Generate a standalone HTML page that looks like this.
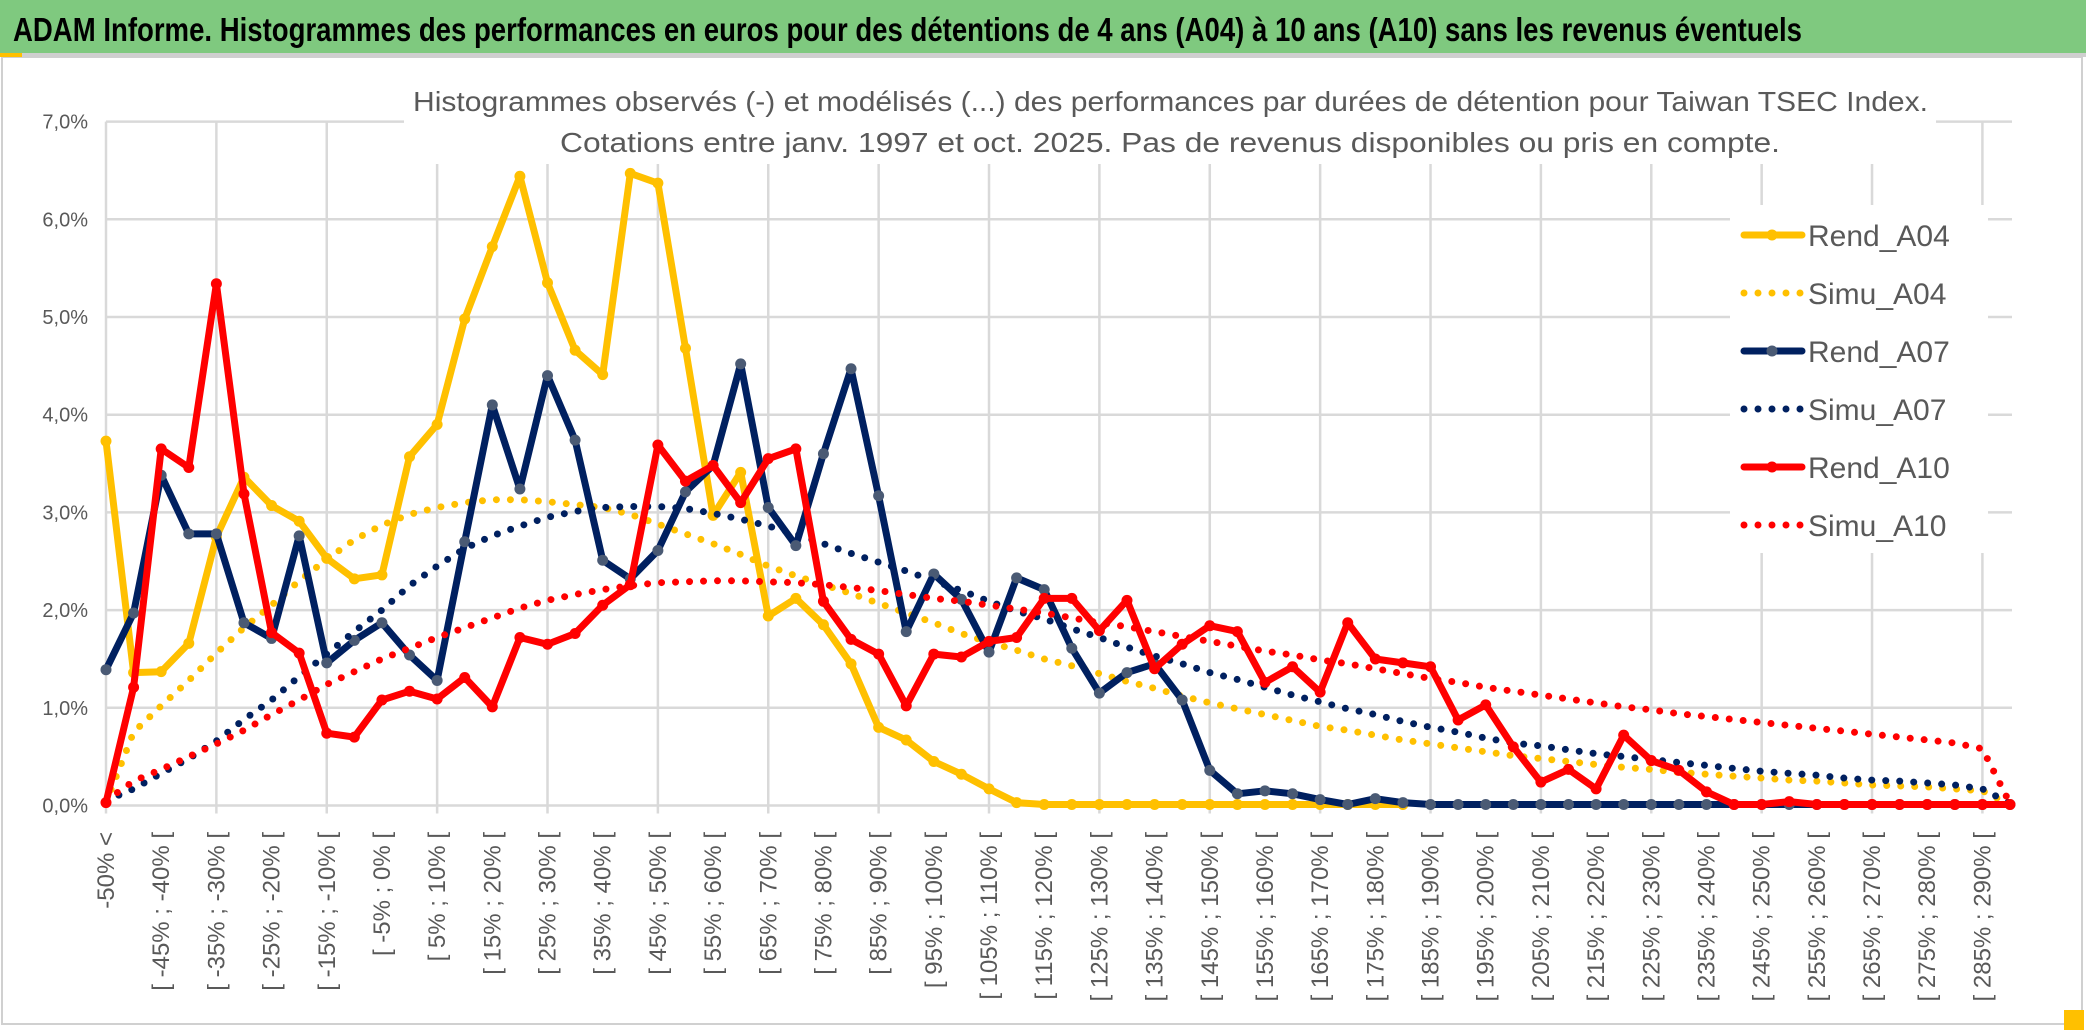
<!DOCTYPE html>
<html><head><meta charset="utf-8"><title>ADAM Informe - Histogrammes Taiwan TSEC</title>
<style>
html,body{margin:0;padding:0;background:#fff;}
svg{display:block;font-family:"Liberation Sans",sans-serif;}
</style></head>
<body>
<svg id="chart" width="2086" height="1033" viewBox="0 0 2086 1033" xmlns="http://www.w3.org/2000/svg">
  <rect x="0" y="0" width="2086" height="1033" fill="#fff"/>
  <rect x="2" y="57" width="2080" height="967" fill="none" stroke="#d0d0d0" stroke-width="2"/>
  <rect x="0" y="0" width="2086" height="53" fill="#7fc97f"/>
  <rect x="0" y="53" width="2086" height="4" fill="#cfcfcf"/>
  <rect x="0" y="53" width="22" height="4" fill="#ffc000"/>
  <rect x="2064" y="1010" width="20" height="20" fill="#ffc000"/>
  <text x="13" y="41" font-size="33" font-weight="bold" fill="#000" textLength="1789" lengthAdjust="spacingAndGlyphs">ADAM Informe. Histogrammes des performances en euros pour des détentions de 4 ans (A04) à 10 ans (A10) sans les revenus éventuels</text>
  <g id="grid"></g>
  <g id="yaxis"></g>
  <g id="xaxis"></g>
  <g id="series"></g>
  <rect x="404" y="80" width="1532" height="84" fill="#fff"/>
  <text x="413" y="111" font-size="28" fill="#595959" textLength="1515" lengthAdjust="spacingAndGlyphs">Histogrammes observés (-) et modélisés (...) des performances par durées de détention pour Taiwan TSEC Index.</text>
  <text x="560" y="152" font-size="28" fill="#595959" textLength="1220" lengthAdjust="spacingAndGlyphs">Cotations entre janv. 1997 et oct. 2025. Pas de revenus disponibles ou pris en compte.</text>
  <g id="legend"></g>
</svg>
<script>
const categories = ["-50% <","[ -50% ; -45% [","[ -45% ; -40% [","[ -40% ; -35% [","[ -35% ; -30% [","[ -30% ; -25% [","[ -25% ; -20% [","[ -20% ; -15% [","[ -15% ; -10% [","[ -10% ; -5% [","[ -5% ; 0% [","[ 0% ; 5% [","[ 5% ; 10% [","[ 10% ; 15% [","[ 15% ; 20% [","[ 20% ; 25% [","[ 25% ; 30% [","[ 30% ; 35% [","[ 35% ; 40% [","[ 40% ; 45% [","[ 45% ; 50% [","[ 50% ; 55% [","[ 55% ; 60% [","[ 60% ; 65% [","[ 65% ; 70% [","[ 70% ; 75% [","[ 75% ; 80% [","[ 80% ; 85% [","[ 85% ; 90% [","[ 90% ; 95% [","[ 95% ; 100% [","[ 100% ; 105% [","[ 105% ; 110% [","[ 110% ; 115% [","[ 115% ; 120% [","[ 120% ; 125% [","[ 125% ; 130% [","[ 130% ; 135% [","[ 135% ; 140% [","[ 140% ; 145% [","[ 145% ; 150% [","[ 150% ; 155% [","[ 155% ; 160% [","[ 160% ; 165% [","[ 165% ; 170% [","[ 170% ; 175% [","[ 175% ; 180% [","[ 180% ; 185% [","[ 185% ; 190% [","[ 190% ; 195% [","[ 195% ; 200% [","[ 200% ; 205% [","[ 205% ; 210% [","[ 210% ; 215% [","[ 215% ; 220% [","[ 220% ; 225% [","[ 225% ; 230% [","[ 230% ; 235% [","[ 235% ; 240% [","[ 240% ; 245% [","[ 245% ; 250% [","[ 250% ; 255% [","[ 255% ; 260% [","[ 260% ; 265% [","[ 265% ; 270% [","[ 270% ; 275% [","[ 275% ; 280% [","[ 280% ; 285% [","[ 285% ; 290% [","[ 290% ; 295% ["];
const yTicks = [0,1,2,3,4,5,6,7];
const yTickLabels = ["0,0%","1,0%","2,0%","3,0%","4,0%","5,0%","6,0%","7,0%"];

const rendA04 = [3.73,1.36,1.37,1.66,2.75,3.36,3.07,2.91,2.53,2.32,2.36,3.57,3.90,4.98,5.72,6.44,5.35,4.66,4.41,6.47,6.37,4.68,2.97,3.41,1.94,2.12,1.85,1.45,0.80,0.67,0.45,0.32,0.17,0.03,0.01,0.01,0.01,0.01,0.01,0.01,0.01,0.01,0.01,0.01,0.01,0.01,0.01,0.01];
const simuA04 = [0.03,0.75,1.02,1.28,1.56,1.82,2.05,2.30,2.52,2.72,2.87,2.98,3.05,3.10,3.13,3.13,3.11,3.08,3.05,2.98,2.88,2.78,2.68,2.57,2.45,2.35,2.26,2.17,2.07,1.97,1.87,1.76,1.67,1.59,1.50,1.43,1.35,1.27,1.20,1.12,1.05,0.99,0.93,0.87,0.81,0.77,0.72,0.67,0.63,0.59,0.55,0.51,0.48,0.45,0.42,0.39,0.37,0.34,0.32,0.30,0.28,0.26,0.25,0.23,0.21,0.20,0.19,0.17,0.15,0.01];
const rendA07 = [1.39,1.97,3.38,2.78,2.78,1.87,1.71,2.76,1.46,1.69,1.87,1.54,1.28,2.70,4.10,3.24,4.40,3.74,2.51,2.32,2.61,3.21,3.48,4.52,3.05,2.66,3.60,4.47,3.17,1.78,2.37,2.11,1.57,2.33,2.21,1.61,1.15,1.36,1.45,1.08,0.36,0.12,0.15,0.12,0.06,0.01,0.07,0.03,0.01,0.01,0.01,0.01,0.01,0.01,0.01,0.01,0.01,0.01,0.01,0.01,0.01,0.01,0.01,0.01,0.01,0.01,0.01,0.01,0.01,0.01];
const simuA07 = [0.05,0.17,0.33,0.48,0.66,0.88,1.08,1.32,1.55,1.78,2.00,2.25,2.45,2.63,2.76,2.86,2.95,3.01,3.05,3.06,3.06,3.04,2.99,2.93,2.86,2.78,2.68,2.58,2.49,2.40,2.30,2.20,2.09,1.99,1.91,1.81,1.72,1.62,1.53,1.45,1.36,1.29,1.21,1.13,1.06,0.99,0.93,0.86,0.80,0.75,0.69,0.64,0.61,0.57,0.53,0.50,0.47,0.44,0.41,0.38,0.35,0.33,0.31,0.28,0.26,0.25,0.23,0.21,0.17,0.02];
const rendA10 = [0.03,1.21,3.65,3.46,5.34,3.19,1.77,1.56,0.74,0.70,1.08,1.17,1.09,1.31,1.01,1.72,1.65,1.76,2.05,2.26,3.69,3.32,3.48,3.10,3.55,3.65,2.09,1.70,1.55,1.02,1.55,1.52,1.68,1.72,2.12,2.12,1.79,2.10,1.40,1.65,1.84,1.78,1.26,1.42,1.16,1.87,1.50,1.46,1.42,0.875,1.03,0.60,0.24,0.37,0.17,0.72,0.46,0.36,0.14,0.01,0.01,0.04,0.01,0.01,0.01,0.01,0.01,0.01,0.01,0.01];
const simuA10 = [0.05,0.25,0.37,0.50,0.63,0.77,0.93,1.08,1.24,1.37,1.50,1.61,1.72,1.82,1.92,2.02,2.10,2.16,2.21,2.25,2.28,2.29,2.30,2.30,2.29,2.28,2.26,2.23,2.20,2.16,2.12,2.09,2.05,2.01,1.97,1.92,1.87,1.83,1.78,1.73,1.68,1.63,1.58,1.54,1.49,1.45,1.40,1.35,1.30,1.26,1.21,1.17,1.13,1.09,1.05,1.01,0.98,0.94,0.91,0.88,0.85,0.82,0.79,0.76,0.73,0.70,0.67,0.64,0.58,0.02];

const seriesNames = ["Rend_A04","Simu_A04","Rend_A07","Simu_A07","Rend_A10","Simu_A10"];

const NS = "http://www.w3.org/2000/svg";
const X0 = 106, X1 = 2010, Y0 = 805.5, PER = 97.7;
function xScale(i){ return X0 + i * (X1 - X0) / (categories.length - 1); }
function yScale(v){ return Y0 - v * PER; }
function mk(tag, attrs, parent){
  const el = document.createElementNS(NS, tag);
  for (const k in attrs) el.setAttribute(k, attrs[k]);
  parent.appendChild(el);
  return el;
}

const grid = document.getElementById('grid');
yTicks.forEach(function(t){
  const l = mk('line', {x1: X0, x2: 2012, y1: yScale(t), y2: yScale(t), stroke: '#d9d9d9', 'stroke-width': 2.5}, grid);
  
  
});
for (let i = 0; i < categories.length; i += 4) {
  const l = mk('line', {x1: xScale(i), x2: xScale(i), y1: yScale(7), y2: Y0 + 8, stroke: '#d9d9d9', 'stroke-width': 2.5}, grid);
  
  
}

const yaxis = document.getElementById('yaxis');
yTicks.forEach(function(t, k){
  const tx = mk('text', {x: 88, y: yScale(t) + 7, 'text-anchor': 'end', 'font-size': 20, fill: '#595959'}, yaxis);
  tx.textContent = yTickLabels[k];
  
  
});

const xaxis = document.getElementById('xaxis');
categories.forEach(function(c, i){
  if (i % 2 !== 0) return;
  const x = xScale(i) + 8, y = 832;
  const tx = mk('text', {x: x, y: y, 'text-anchor': 'end', 'font-size': 24, fill: '#595959', transform: 'rotate(-90 ' + x + ' ' + y + ')'}, xaxis);
  tx.textContent = c;
  
  
});

const layer = document.getElementById('series');
function pathFor(vals){
  return vals.map(function(v, i){ return (i ? 'L' : 'M') + xScale(i).toFixed(1) + ' ' + yScale(v).toFixed(1); }).join(' ');
}
function solid(vals, color, markerColor, name){
  const g = mk('g', {}, layer);
  
  
  const p = mk('path', {d: pathFor(vals), fill: 'none', stroke: color, 'stroke-width': 7, 'stroke-linejoin': 'round', 'stroke-linecap': 'round'}, g);
  
  
  vals.forEach(function(v, i){
    const c = mk('circle', {cx: xScale(i), cy: yScale(v), r: 5.5, fill: markerColor}, g);
    
    
  });
}
function dotted(vals, color, name){
  const p = mk('path', {d: pathFor(vals), fill: 'none', stroke: color, 'stroke-width': 7, 'stroke-dasharray': '0 14', 'stroke-linecap': 'round', 'stroke-linejoin': 'round'}, layer);
  
  
}
solid(rendA04, '#ffc000', '#ffc000', 'rend-a04');
dotted(simuA04, '#ffc000', 'simu-a04');
solid(rendA07, '#002060', '#4a5a74', 'rend-a07');
dotted(simuA07, '#002060', 'simu-a07');
solid(rendA10, '#ff0000', '#ff0000', 'rend-a10');
dotted(simuA10, '#ff0000', 'simu-a10');

const legend = document.getElementById('legend');
const lb = mk('rect', {x: 1730, y: 205, width: 258, height: 348, fill: '#fff'}, legend);


const legColors = ['#ffc000','#ffc000','#002060','#002060','#ff0000','#ff0000'];
const legMarkers = ['#ffc000',null,'#4a5a74',null,'#ff0000',null];
seriesNames.forEach(function(n, k){
  const cy = 235 + k * 58;
  const g = mk('g', {}, legend);
  
  
  if (legMarkers[k]) {
    mk('line', {x1: 1744, x2: 1802, y1: cy, y2: cy, stroke: legColors[k], 'stroke-width': 7, 'stroke-linecap': 'round'}, g);
    mk('circle', {cx: 1772, cy: cy, r: 5.5, fill: legMarkers[k]}, g);
  } else {
    mk('line', {x1: 1744, x2: 1802, y1: cy, y2: cy, stroke: legColors[k], 'stroke-width': 7, 'stroke-dasharray': '0 14', 'stroke-linecap': 'round'}, g);
  }
  const t = mk('text', {x: 1808, y: cy + 11, 'font-size': 30, fill: '#595959'}, g);
  t.textContent = n;
});
</script>
</body></html>
